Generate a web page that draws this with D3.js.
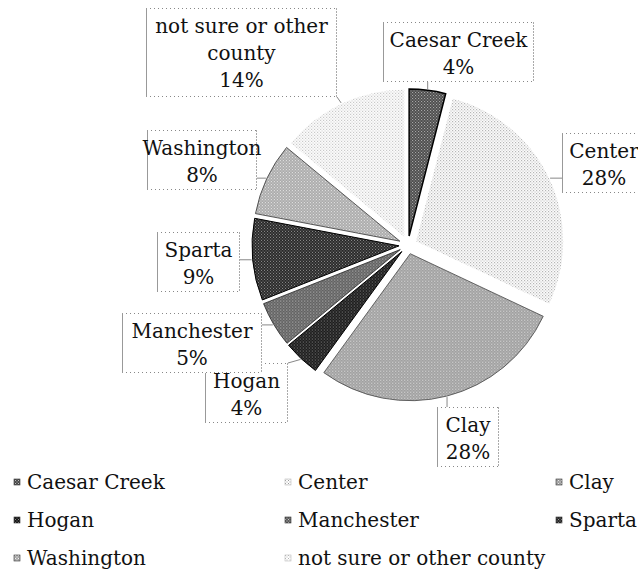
<!DOCTYPE html>
<html>
<head>
<meta charset="utf-8">
<script src="https://cdn.jsdelivr.net/npm/d3@7"></script>
<style>
  body { margin: 0; background: #fff; }
  text { font-family: "DejaVu Serif", Georgia, serif; fill: #111; }
</style>
</head>
<body>
<svg id="chart" width="638" height="577"></svg>
<script>
// values
const categories = ["Caesar Creek", "Center", "Clay", "Hogan", "Manchester", "Sparta", "Washington", "not sure or other county"];
const shares = [4, 28, 28, 4, 5, 9, 8, 14];
const labelLines = [["Caesar Creek"], ["Center"], ["Clay"], ["Hogan"], ["Manchester"], ["Sparta"], ["Washington"], ["not sure or other", "county"]];

// look of each slice: base tone, dot tone, outline
const looks = [
  {base: "#4a4a4a", dot: "#bbbbbb", line: "#000", w: 1.5},
  {base: "#ffffff", dot: "#9a9a9a", line: "none", w: 0},
  {base: "#9c9c9c", dot: "#e6e6e6", line: "#444", w: 0.8},
  {base: "#161616", dot: "#888888", line: "#000", w: 1},
  {base: "#5a5a5a", dot: "#c8c8c8", line: "#222", w: 0.8},
  {base: "#262626", dot: "#9a9a9a", line: "#000", w: 1},
  {base: "#a8a8a8", dot: "#f0f0f0", line: "#333", w: 0.8},
  {base: "#ffffff", dot: "#b4b4b4", line: "none", w: 0}
];

// label boxes [x, y, w, h]
const boxes = [
  [383, 22, 151, 60],
  [562, 133, 90, 60],
  [437, 407, 62, 60],
  [205, 363, 83, 60],
  [122, 313, 140, 60],
  [157, 232, 83, 60],
  [147, 130, 110, 60],
  [146, 8, 191, 89]
];

const svg = d3.select("#chart");
const cx = 408, cy = 245, r = 147, explode = 9;

const defs = svg.append("defs");
looks.forEach((l, i) => {
  const p = defs.append("pattern").attr("id", "pat" + i)
    .attr("width", 3).attr("height", 3).attr("patternUnits", "userSpaceOnUse");
  p.append("rect").attr("width", 3).attr("height", 3).attr("fill", l.base);
  p.append("rect").attr("x", 0).attr("y", 0).attr("width", 1).attr("height", 1).attr("fill", l.dot);
  p.append("rect").attr("x", 1.5).attr("y", 1.5).attr("width", 1).attr("height", 1).attr("fill", l.dot);
});

const pie = d3.pie().sort(null).value(d => d)(shares);
const arc = d3.arc().innerRadius(0).outerRadius(r);
const mid = d => (d.startAngle + d.endAngle) / 2;

const g = svg.append("g").attr("transform", `translate(${cx},${cy})`);
g.selectAll("path").data(pie).join("path")
  .attr("transform", d => `translate(${explode * Math.sin(mid(d))},${-explode * Math.cos(mid(d))})`)
  .attr("d", arc)
  .attr("fill", (d, i) => `url(#pat${i})`)
  .attr("stroke", (d, i) => looks[i].line)
  .attr("stroke-width", (d, i) => looks[i].w);

// leader lines
pie.forEach((d, i) => {
  const a = mid(d);
  const px = cx + (r + explode + 1) * Math.sin(a);
  const py = cy - (r + explode + 1) * Math.cos(a);
  const [bx, by, bw, bh] = boxes[i];
  const qx = Math.max(bx, Math.min(bx + bw, px));
  const qy = Math.max(by, Math.min(by + bh, py));
  if (Math.hypot(px - qx, py - qy) > 2) {
    svg.append("line").attr("x1", qx).attr("y1", qy).attr("x2", px).attr("y2", py)
      .attr("stroke", "#888").attr("stroke-width", 1);
  }
});

// label boxes, Hogan before Manchester so Manchester covers it
boxes.forEach((bx_, i) => {
  const [bx, by, bw, bh] = bx_;
  const b = svg.append("g");
  b.append("rect").attr("x", bx).attr("y", by).attr("width", bw).attr("height", bh).attr("fill", "#fff");
  b.append("line").attr("x1", bx).attr("x2", bx + bw).attr("y1", by + 0.5).attr("y2", by + 0.5)
    .attr("stroke", "#888").attr("stroke-dasharray", "1,3");
  b.append("line").attr("x1", bx).attr("x2", bx + bw).attr("y1", by + bh - 0.5).attr("y2", by + bh - 0.5)
    .attr("stroke", "#888").attr("stroke-dasharray", "1,3");
  b.append("line").attr("x1", bx + 0.5).attr("x2", bx + 0.5).attr("y1", by).attr("y2", by + bh)
    .attr("stroke", "#999");
  b.append("line").attr("x1", bx + bw - 0.5).attr("x2", bx + bw - 0.5).attr("y1", by).attr("y2", by + bh)
    .attr("stroke", "#aaa").attr("stroke-dasharray", "2,1");
  const lines = labelLines[i].concat([shares[i] + "%"]);
  const t = b.append("text").attr("text-anchor", "middle").attr("font-size", 20);
  const x0 = i === 1 ? bx + 42 : bx + bw / 2;
  lines.forEach((s, k) => {
    t.append("tspan").attr("x", x0).attr("y", by + 25 + k * 27).text(s);
  });
});

// legend
const legendX = [14, 285, 556];
const legendY = [482, 520, 558];
categories.forEach((c, i) => {
  const x = legendX[i % 3], y = legendY[Math.floor(i / 3)];
  svg.append("rect").attr("x", x).attr("y", y - 3).attr("width", 6).attr("height", 6)
    .attr("fill", `url(#pat${i})`).attr("stroke", looks[i].line === "none" ? "#bbb" : "#333").attr("stroke-width", 0.6);
  svg.append("text").attr("x", x + 13).attr("y", y + 7).attr("font-size", 20).text(c);
});
</script>
</body>
</html>
